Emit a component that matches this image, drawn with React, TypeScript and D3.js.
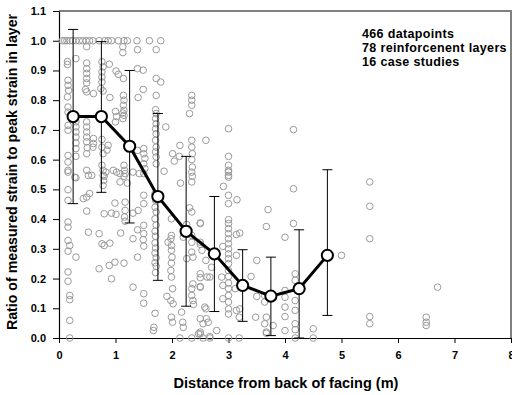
import { useEffect, useRef } from 'react';
import * as d3 from 'd3';

// binned means (every 0.5 m) and +/- one std dev
const binX = [0.25, 0.75, 1.25, 1.75, 2.25, 2.75, 3.25, 3.75, 4.25, 4.75];
const binMean = [0.745, 0.745, 0.645, 0.476, 0.359, 0.283, 0.177, 0.141, 0.166, 0.278];
const binUpper = [1.038, 0.997, 0.9, 0.755, 0.611, 0.476, 0.297, 0.272, 0.364, 0.566];
const binLower = [0.452, 0.49, 0.387, 0.194, 0.107, 0.089, 0.056, 0.008, -0.03, 0.076];

const xTicks = [0, 1, 2, 3, 4, 5, 6, 7, 8];
const yTicks = [0, 0.1, 0.2, 0.3, 0.4, 0.5, 0.6, 0.7, 0.8, 0.9, 1.0, 1.1];

const notes = ['466 datapoints', '78 reinforcenent layers', '16 case studies'];

// raw measurements [distance, ratio]
const points: [number, number][] = [
  [0.06, 1], [0.1, 1], [0.14, 1], [0.19, 1], [0.24, 1], [0.3, 1], [0.36, 1], [0.42, 1], [0.48, 1], [0.54, 1], [0.6, 1],
  [0.71, 1], [0.81, 1], [0.87, 1], [0.93, 1], [1.05, 1], [1.15, 1], [1.21, 1], [1.38, 1], [1.6, 1], [1.8, 1],
  [0.49, 0.98], [1.13, 0.98], [1.13, 0.96], [1.39, 0.97], [1.72, 0.97],
  [0.15, 0.93], [0.15, 0.92], [0.3, 0.94],
  [0.49, 0.925], [0.49, 0.906], [0.49, 0.89], [0.49, 0.873], [0.49, 0.858], [0.47, 0.836], [0.49, 0.828],
  [0.76, 0.929], [0.78, 0.912], [0.76, 0.895], [0.76, 0.878], [0.76, 0.861], [0.74, 0.839], [0.78, 0.831],
  [0.89, 0.921], [1.01, 0.898], [1.05, 0.887], [1.14, 0.873], [1.39, 0.906], [1.49, 0.901], [1.72, 0.873], [1.8, 0.861],
  [0.16, 0.867], [0.16, 0.85], [0.17, 0.833], [0.15, 0.811], [0.16, 0.777], [0.16, 0.76],
  [0.61, 0.822], [0.9, 0.809], [1.14, 0.816], [1.15, 0.8], [1.14, 0.783], [1.15, 0.766], [1.15, 0.749], [1.4, 0.809], [1.49, 0.836],
  [1.72, 0.816], [1.71, 0.768], [1.72, 0.755], [1.71, 0.738], [1.72, 0.721], [1.71, 0.704], [1.72, 0.687], [1.71, 0.665],
  [1.72, 0.642], [1.71, 0.626], [1.72, 0.609], [1.72, 0.586],
  [1.89, 0.71], [2.35, 0.816], [2.35, 0.8], [2.35, 0.783], [2.31, 0.755], [2.6, 0.665], [2.14, 0.648],
  [2.35, 0.665], [2.35, 0.642], [2.36, 0.62], [2.35, 0.6], [2.36, 0.575], [2.35, 0.558], [2.36, 0.544],
  [2.01, 0.62], [2.13, 0.611], [2.04, 0.595],
  [0.16, 0.715], [0.16, 0.699],
  [0.3, 0.727], [0.3, 0.71], [0.3, 0.693], [0.3, 0.676], [0.3, 0.656], [0.3, 0.637],
  [0.49, 0.727], [0.49, 0.71], [0.49, 0.693], [0.49, 0.676], [0.49, 0.66], [0.5, 0.64], [0.49, 0.62],
  [0.61, 0.671], [0.61, 0.654], [0.6, 0.642],
  [0.76, 0.668], [0.76, 0.642], [0.78, 0.62],
  [0.87, 0.648], [0.85, 0.632],
  [1.0, 0.762], [1.02, 0.745], [1.0, 0.727], [1.13, 0.757], [1.13, 0.738],
  [1.39, 0.631], [1.5, 0.637], [1.5, 0.62], [1.52, 0.604],
  [0.16, 0.614], [0.16, 0.592], [0.16, 0.564],
  [0.3, 0.611], [0.28, 0.541],
  [0.49, 0.564], [0.52, 0.547], [0.58, 0.547],
  [0.76, 0.581], [0.78, 0.564], [0.8, 0.544],
  [0.96, 0.564], [1.08, 0.553],
  [1.15, 0.581], [1.16, 0.564], [1.15, 0.544],
  [1.31, 0.558], [1.42, 0.553],
  [1.5, 0.586], [1.52, 0.57], [1.5, 0.553],
  [1.86, 0.561],
  [0.16, 0.558], [0.3, 0.539], [0.16, 0.499], [0.16, 0.463],
  [0.43, 0.469], [0.49, 0.474], [0.54, 0.486], [0.49, 0.427],
  [0.78, 0.513], [0.79, 0.53], [0.78, 0.547],
  [0.83, 0.558], [1.02, 0.558], [1.17, 0.553],
  [1.08, 0.525], [1.21, 0.521], [0.99, 0.454],
  [1.17, 0.457], [1.17, 0.429], [1.16, 0.407], [1.17, 0.393],
  [0.8, 0.418], [0.93, 0.42], [1.01, 0.416],
  [1.31, 0.42], [1.4, 0.429],
  [1.5, 0.48], [1.5, 0.452],
  [1.7, 0.486], [1.71, 0.463], [1.7, 0.44], [1.72, 0.424], [1.7, 0.401], [1.72, 0.38], [1.7, 0.359], [1.71, 0.342],
  [1.7, 0.32], [1.71, 0.303], [1.7, 0.286], [1.72, 0.27], [1.7, 0.253], [1.72, 0.241], [1.71, 0.22],
  [1.5, 0.379], [1.5, 0.351], [1.49, 0.331], [1.5, 0.309],
  [1.39, 0.364], [1.31, 0.334], [1.39, 0.272],
  [0.16, 0.39], [0.16, 0.373], [0.52, 0.356], [0.71, 0.351], [1.09, 0.353],
  [0.16, 0.328], [0.19, 0.311], [0.16, 0.292], [0.3, 0.272],
  [0.76, 0.317], [0.8, 0.311], [0.9, 0.319],
  [0.71, 0.233], [0.89, 0.244], [0.99, 0.255], [1.15, 0.252],
  [0.16, 0.222], [0.16, 0.191], [0.93, 0.199],
  [1.31, 0.171], [1.5, 0.149], [1.5, 0.117],
  [0.19, 0.143], [0.19, 0.129], [0.19, 0.059], [0.19, 0],
  [1.7, 0.083], [1.68, 0.036],
  [1.93, 0.322], [1.98, 0.334], [1.99, 0.311], [1.99, 0.295], [2.0, 0.272], [1.99, 0.252], [1.98, 0.227], [1.99, 0.205],
  [1.91, 0.14], [1.98, 0.126], [2.01, 0.166], [2.02, 0.115],
  [1.99, 0.07], [2.01, 0.053], [2.17, 0.087], [2.19, 0.053], [2.2, 0.036], [2.14, 0], [2.35, 0], [2.47, 0.014], [2.55, 0],
  [2.15, 0.521], [2.35, 0.525],
  [2.31, 0.438], [2.35, 0.424], [2.5, 0.387], [2.26, 0.382], [2.35, 0.345], [2.35, 0.322], [2.35, 0.289], [2.37, 0.272],
  [2.26, 0.267], [2.5, 0.315], [2.2, 0.339], [1.99, 0.401], [1.99, 0.345],
  [2.37, 0.182], [2.35, 0.166], [2.5, 0.203], [2.5, 0.173], [2.35, 0.143], [2.37, 0.126], [2.38, 0.113], [2.6, 0.098],
  [2.5, 0.065], [2.64, 0.053],
  [2.6, 0.261], [2.62, 0.205],
  [3.0, 0.558], [3.0, 0.541], [2.91, 0.51], [3.0, 0.48], [3.0, 0.452], [3.15, 0.465],
  [3.0, 0.398], [3.0, 0.385], [3.0, 0.368], [3.0, 0.351], [3.0, 0.334], [3.0, 0.317], [3.0, 0.3], [3.0, 0.283],
  [3.0, 0.267], [3.0, 0.25], [3.0, 0.227], [3.0, 0.207], [3.0, 0.185], [3.0, 0.166], [3.0, 0.143], [3.0, 0.121],
  [3.0, 0.098], [3.0, 0.081],
  [3.14, 0.348], [3.2, 0.353], [2.9, 0.308], [3.14, 0.278], [2.9, 0.177], [3.12, 0.166], [2.9, 0.132], [3.14, 0.093],
  [3.2, 0.098], [3.19, 0.07],
  [2.5, 0.385], [2.5, 0.322], [2.53, 0.295], [2.5, 0.216], [2.5, 0.171], [2.58, 0.104], [2.61, 0.065], [2.55, 0.048],
  [2.5, 0.02], [2.67, 0.005], [2.79, 0.025], [3.0, 0], [3.19, 0],
  [2.67, 0.205], [2.7, 0.238], [2.88, 0.205],
  [3.4, 0.207], [3.5, 0.261], [3.5, 0.14], [3.48, 0.07],
  [3.7, 0.432], [3.67, 0.375], [3.64, 0.143], [3.64, 0.121], [3.67, 0.07], [3.64, 0.048], [3.79, 0.042], [3.67, 0.02],
  [4.0, 0.339], [4.0, 0.16], [4.0, 0.137], [4.0, 0.104], [4.0, 0.072], [4.0, 0.025],
  [4.15, 0.502], [4.15, 0.385], [4.18, 0.216], [4.18, 0.194], [4.18, 0.126], [4.18, 0.093], [4.18, 0.048], [4.18, 0.028],
  [4.18, 0], [4.5, 0.031], [4.5, 0],
  [5.0, 0.278],
  [3.0, 0.704], [4.15, 0.701], [3.0, 0.611], [3.0, 0.581], [3.0, 0.564], [3.0, 0.547],
  [5.5, 0.525], [5.5, 0.443], [5.5, 0.334], [6.7, 0.171], [5.5, 0.072], [5.5, 0.048], [6.5, 0.07], [6.5, 0.053], [6.5, 0.042],
  [2.5, 0.014], [3.67, 0.016], [1.67, 0.025], [2.67, 0],
];

const StrainChart = () => {
  const svgRef = useRef<SVGSVGElement>(null);

  useEffect(() => {
    const width = 512;
    const height = 395;
    const margin = { top: 11, right: 1, bottom: 57, left: 59 };
    const font = '"Liberation Sans", Arial, sans-serif';

    const svg = d3.select(svgRef.current);
    svg.selectAll('*').remove();

    const x = d3.scaleLinear().domain([0, 8]).range([margin.left, width - margin.right]);
    const y = d3.scaleLinear().domain([0, 1.1]).range([height - margin.bottom, margin.top]);

    // frame (top + right, grey)
    svg.append('path')
      .attr('d', `M${x(0)},${y(1.1)}H${x(8)}V${y(0)}`)
      .attr('fill', 'none')
      .attr('stroke', '#808080')
      .attr('stroke-width', 2);

    // axes
    const yAxis = svg.append('g')
      .attr('transform', `translate(${margin.left},0)`)
      .call(d3.axisLeft(y).tickValues(yTicks).tickSize(6).tickSizeOuter(0).tickFormat(d3.format('.1f')));
    const xAxis = svg.append('g')
      .attr('transform', `translate(0,${y(0)})`)
      .call(d3.axisBottom(x).tickValues(xTicks).tickSize(5).tickSizeOuter(0).tickFormat(d3.format('d')));

    [xAxis, yAxis].forEach((g) => {
      g.select('.domain').attr('stroke', '#000').attr('stroke-width', 1.2);
      g.selectAll('.tick line').attr('stroke', '#000');
      g.selectAll('text')
        .attr('fill', '#000')
        .style('font-family', font)
        .style('font-size', '11px')
        .style('font-weight', 'bold');
    });
    yAxis.selectAll('text').attr('x', -13);
    xAxis.selectAll('text').attr('y', 13);

    // scatter
    svg.append('g')
      .selectAll('circle')
      .data(points)
      .enter()
      .append('circle')
      .attr('cx', (d) => x(d[0]))
      .attr('cy', (d) => y(d[1]))
      .attr('r', 3.3)
      .attr('fill', 'none')
      .attr('stroke', '#9a9a9a')
      .attr('stroke-width', 1);

    // error bars
    const bins = binX.map((bx, i) => ({ bx, m: binMean[i], hi: binUpper[i], lo: Math.max(0, binLower[i]) }));
    const eb = svg.append('g').attr('stroke', '#000').attr('stroke-width', 1);
    bins.forEach((d) => {
      eb.append('line').attr('x1', x(d.bx)).attr('x2', x(d.bx)).attr('y1', y(d.hi)).attr('y2', y(d.lo));
      eb.append('line').attr('x1', x(d.bx) - 5).attr('x2', x(d.bx) + 5).attr('y1', y(d.hi)).attr('y2', y(d.hi));
      eb.append('line').attr('x1', x(d.bx) - 5).attr('x2', x(d.bx) + 5).attr('y1', y(d.lo)).attr('y2', y(d.lo));
    });

    // mean line
    const line = d3.line<{ bx: number; m: number }>().x((d) => x(d.bx)).y((d) => y(d.m));
    svg.append('path')
      .datum(bins)
      .attr('d', line)
      .attr('fill', 'none')
      .attr('stroke', '#000')
      .attr('stroke-width', 3);

    svg.append('g')
      .selectAll('circle')
      .data(bins)
      .enter()
      .append('circle')
      .attr('cx', (d) => x(d.bx))
      .attr('cy', (d) => y(d.m))
      .attr('r', 5.6)
      .attr('fill', '#fff')
      .attr('stroke', '#000')
      .attr('stroke-width', 2);

    // annotation
    svg.append('g')
      .selectAll('text')
      .data(notes)
      .enter()
      .append('text')
      .attr('x', 362)
      .attr('y', (_d, i) => 37.5 + i * 14)
      .style('font-family', font)
      .style('font-size', '12.5px')
      .style('letter-spacing', '0.35px')
      .style('font-weight', 'bold')
      .text((d) => d);

    // axis titles
    svg.append('text')
      .attr('x', 286)
      .attr('y', 388)
      .attr('text-anchor', 'middle')
      .style('font-family', font)
      .style('font-size', '14.5px')
      .style('font-weight', 'bold')
      .text('Distance from back of facing (m)');

    svg.append('text')
      .attr('transform', 'translate(17,172) rotate(-90)')
      .attr('text-anchor', 'middle')
      .style('font-family', font)
      .style('font-size', '14.2px')
      .style('font-weight', 'bold')
      .text('Ratio of measured strain to peak strain in layer');
  }, []);

  return (
    <svg
      ref={svgRef}
      width={512}
      height={395}
      style={{ position: 'absolute', left: 0, top: 0, background: '#fff' }}
    />
  );
};

export default function App() {
  return <StrainChart />;
}
